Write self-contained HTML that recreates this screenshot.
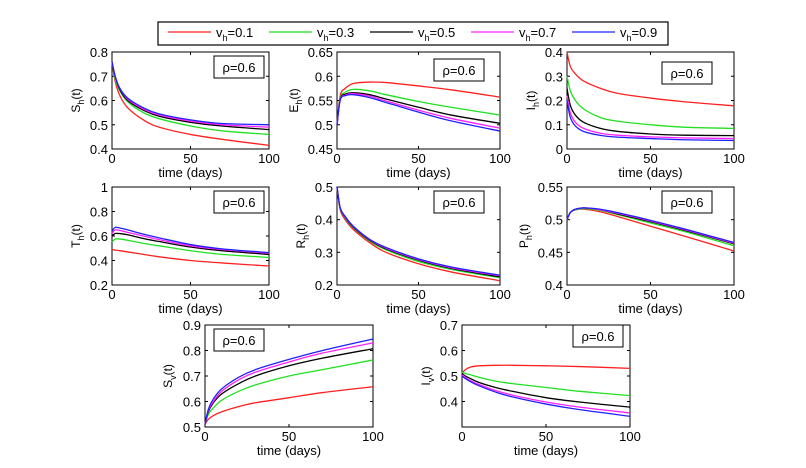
<!DOCTYPE html>
<html><head><meta charset="utf-8"><style>
body{margin:0;background:#fff;}
svg{display:block;font-family:"Liberation Sans",Arial,sans-serif;}
</style></head><body>
<svg id="c" width="806" height="468" viewBox="0 0 806 468"></svg>
<script>
const times=[0,2,5,10,20,30,50,70,100];
const seriesNames=["0.1","0.3","0.5","0.7","0.9"];
const colors=["#ff2020","#20e020","#000000","#ff20ff","#2020ff"];
const xTicks=[0,50,100];
const ShData=[[.76,.68,.62,.57,.52,.49,.46,.44,.415],[.76,.69,.64,.595,.55,.525,.495,.475,.46],[.76,.70,.645,.60,.56,.535,.51,.495,.48],[.76,.70,.65,.605,.565,.54,.515,.50,.49],[.76,.70,.65,.61,.57,.545,.52,.505,.50]];
const EhData=[[.5,.56,.575,.585,.588,.587,.58,.572,.557],[.5,.555,.567,.573,.57,.562,.548,.536,.52],[.5,.553,.563,.566,.562,.553,.536,.52,.503],[.5,.552,.561,.564,.559,.549,.53,.513,.493],[.5,.551,.56,.562,.556,.546,.526,.508,.487]];
const IhData=[[.4,.34,.31,.28,.25,.23,.21,.195,.178],[.3,.24,.2,.165,.13,.115,.1,.09,.085],[.25,.18,.14,.11,.085,.073,.062,.057,.055],[.22,.15,.11,.085,.065,.057,.05,.046,.043],[.2,.13,.095,.072,.056,.049,.043,.038,.035]];
const ThData=[[.49,.485,.48,.47,.45,.43,.4,.38,.355],[.55,.575,.575,.565,.54,.52,.48,.45,.425],[.6,.62,.62,.61,.58,.555,.51,.48,.45],[.62,.65,.645,.63,.6,.57,.52,.49,.46],[.64,.67,.665,.65,.615,.585,.53,.495,.465]];
const RhData=[[.5,.43,.4,.37,.33,.3,.265,.24,.213],[.5,.433,.405,.375,.335,.308,.272,.248,.222],[.5,.434,.407,.377,.337,.311,.276,.251,.225],[.5,.435,.408,.379,.339,.313,.278,.253,.228],[.5,.436,.41,.38,.34,.315,.28,.255,.23]];
const PhData=[[.5,.511,.515,.516,.512,.505,.49,.475,.452],[.5,.511,.515,.517,.514,.508,.495,.482,.46],[.5,.511,.516,.518,.515,.509,.497,.484,.463],[.5,.511,.516,.518,.515,.51,.498,.485,.464],[.5,.511,.516,.518,.516,.511,.499,.486,.465]];
const SvData=[[.51,.53,.545,.56,.58,.595,.615,.635,.658],[.51,.55,.575,.605,.64,.665,.7,.725,.763],[.51,.56,.595,.63,.67,.7,.74,.77,.807],[.51,.565,.6,.64,.685,.715,.755,.79,.83],[.51,.57,.61,.65,.695,.725,.765,.8,.845]];
const IvData=[[.51,.525,.535,.54,.542,.542,.54,.537,.53],[.515,.51,.505,.495,.48,.47,.455,.44,.423],[.51,.5,.49,.475,.455,.44,.415,.398,.378],[.505,.495,.482,.467,.443,.425,.398,.378,.355],[.5,.49,.478,.462,.437,.418,.39,.368,.342]];

const NS="http://www.w3.org/2000/svg";
const svg=document.getElementById('c');
function mk(tag,attrs,parent){const e=document.createElementNS(NS,tag);for(const k in attrs)e.setAttribute(k,attrs[k]);(parent||svg).appendChild(e);return e;}

const panels=[
 {name:"sh",x0:112,x1:269,y0:52,y1:149,ymin:.4,ymax:.8,ticks:[.4,.5,.6,.7,.8],lab:"S",data:ShData,box:[214,56],lx:32},
 {name:"eh",x0:337,x1:500,y0:52,y1:149,ymin:.45,ymax:.65,ticks:[.45,.5,.55,.6,.65],lab:"E",data:EhData,box:[434,59],lx:39},
 {name:"ih",x0:567,x1:734,y0:52,y1:149,ymin:0,ymax:.4,ticks:[0,.1,.2,.3,.4],lab:"I",data:IhData,box:[662,62],lx:32},
 {name:"th",x0:112,x1:269,y0:187,y1:285,ymin:.2,ymax:1,ticks:[.2,.4,.6,.8,1],lab:"T",data:ThData,box:[214,191],lx:32},
 {name:"rh",x0:337,x1:500,y0:187,y1:285,ymin:.2,ymax:.5,ticks:[.2,.3,.4,.5],lab:"R",data:RhData,box:[434,191],lx:32},
 {name:"ph",x0:567,x1:734,y0:187,y1:285,ymin:.4,ymax:.55,ticks:[.4,.45,.5,.55],lab:"P",data:PhData,box:[662,191],lx:39},
 {name:"sv",x0:205,x1:373,y0:325,y1:427,ymin:.5,ymax:.9,ticks:[.5,.6,.7,.8,.9],lab:"S",sub:"v",data:SvData,box:[214,329],lx:33},
 {name:"iv",x0:462,x1:630,y0:325,y1:427,ymin:.3,ymax:.7,ticks:[.4,.5,.6,.7],lab:"I",sub:"v",data:IvData,box:[573,325],lx:32}
];

function fmt(v){return (Math.round(v*100)/100).toString();}

panels.forEach(p=>{
 const g=mk('g',{});
 
 
 const sx=t=>p.x0+t/100*(p.x1-p.x0);
 const sy=v=>p.y1-(v-p.ymin)/(p.ymax-p.ymin)*(p.y1-p.y0);
 const frame=mk('rect',{x:p.x0,y:p.y0,width:p.x1-p.x0,height:p.y1-p.y0,fill:'none',stroke:'#000','stroke-width':1},g);
 
 
 xTicks.forEach(t=>{
  const x=sx(t);
  mk('line',{x1:x,x2:x,y1:p.y1,y2:p.y1-3,stroke:'#000'},g);
  mk('line',{x1:x,x2:x,y1:p.y0,y2:p.y0+3,stroke:'#000'},g);
  const tx=mk('text',{x:x,y:p.y1+14,'font-size':13,'text-anchor':'middle'},g);
  tx.textContent=t;
  
  
 });
 p.ticks.forEach(v=>{
  const y=sy(v);
  mk('line',{x1:p.x0,x2:p.x0+3,y1:y,y2:y,stroke:'#000'},g);
  mk('line',{x1:p.x1,x2:p.x1-3,y1:y,y2:y,stroke:'#000'},g);
  const tx=mk('text',{x:p.x0-4,y:y+5,'font-size':13,'text-anchor':'end'},g);
  tx.textContent=fmt(v);
  
  
 });
 const xl=mk('text',{x:(p.x0+p.x1)/2,y:p.y1+28,'font-size':13,'text-anchor':'middle'},g);
 xl.textContent='time (days)';
 
 
 const yl=mk('text',{transform:`translate(${p.x0-p.lx},${(p.y0+p.y1)/2}) rotate(-90)`,'font-size':12,'text-anchor':'middle'},g);
 yl.innerHTML=`${p.lab}<tspan font-size="9" dy="4">${p.sub||'h'}</tspan><tspan dy="-4">(t)</tspan>`;
 
 
 p.data.forEach((vals,si)=>{
  const pts=times.map((t,i)=>[sx(t),sy(vals[i])]);
  let d='M'+pts[0][0]+','+pts[0][1];
  for(let i=0;i<pts.length-1;i++){
   const p0=pts[Math.max(0,i-1)],p1=pts[i],p2=pts[i+1],p3=pts[Math.min(pts.length-1,i+2)];
   const c1=[p1[0]+(p2[0]-p0[0])/6,p1[1]+(p2[1]-p0[1])/6];
   const c2=[p2[0]-(p3[0]-p1[0])/6,p2[1]-(p3[1]-p1[1])/6];
   d+=`C${c1[0]},${c1[1]} ${c2[0]},${c2[1]} ${p2[0]},${p2[1]}`;
  }
  const path=mk('path',{d:d,fill:'none',stroke:colors[si],'stroke-width':1.3},g);
  
  
 });
 const bx=mk('rect',{x:p.box[0],y:p.box[1],width:50,height:22,fill:'#fff',stroke:'#000','stroke-width':1},g);
 
 
 const bt=mk('text',{x:p.box[0]+25,y:p.box[1]+16,'font-size':13,'text-anchor':'middle'},g);
 bt.textContent='ρ=0.6';
 
 
});

const lg=mk('g',{});


mk('rect',{x:158,y:22,width:510,height:23,fill:'#fff',stroke:'#000','stroke-width':1.2},lg);
seriesNames.forEach((n,i)=>{
 const x=168+i*101;
 const e=mk('g',{},lg);
 
 
 mk('line',{x1:x,x2:x+43,y1:32,y2:32,stroke:colors[i],'stroke-width':1.3},e);
 const t=mk('text',{x:x+48,y:37,'font-size':13},e);
 t.innerHTML=`v<tspan font-size="9" dy="4">h</tspan><tspan dy="-4">=${n}</tspan>`;
});
</script>
</body></html>
